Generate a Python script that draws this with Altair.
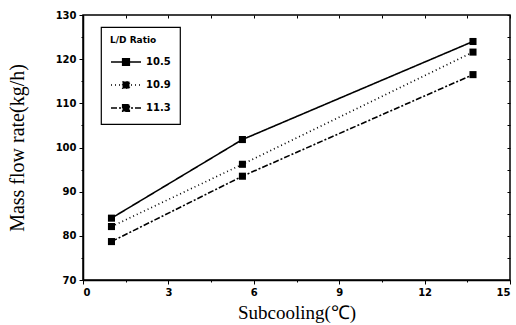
import altair as alt
import pandas as pd

subcooling = [1.0, 5.6, 13.7]
ratios = ["10.5", "10.9", "11.3"]
flow_105 = [84.0, 101.8, 124.0]
flow_109 = [82.1, 96.2, 121.6]
flow_113 = [78.7, 93.5, 116.5]

x_ticks = [i * 1.5 for i in range(11)]
y_ticks = [70 + 5 * i for i in range(13)]

rows = []
for r, vals in zip(ratios, [flow_105, flow_109, flow_113]):
    for xv, yv in zip(subcooling, vals):
        rows.append({"x": xv, "y": yv, "ratio": r})
df = pd.DataFrame(rows)

xs = alt.Scale(domain=[0, 15], nice=False, zero=False)
ys = alt.Scale(domain=[70, 130], nice=False, zero=False)

tick_font = "DejaVu Sans"
title_font = "Liberation Serif"

x_axis = alt.Axis(
    values=x_ticks, labelExpr="datum.value % 3 === 0 ? datum.label : ''",
    title="Subcooling(℃)", titleFont=title_font, titleFontSize=19, titleFontWeight="normal",
    titleColor="black", titlePadding=6,
    labelFont=tick_font, labelFontWeight="bold", labelFontSize=10, labelColor="black",
    labelPadding=3, grid=False, domainColor="black", domainWidth=1.5,
    tickColor="black", tickSize={"condition": {"test": "datum.value % 3 === 0", "value": 4}, "value": 2},
)
y_axis = alt.Axis(
    values=y_ticks, labelExpr="datum.value % 10 === 0 ? datum.label : ''",
    title="Mass flow rate(kg/h)", titleFont=title_font, titleFontSize=20, titleFontWeight="normal",
    titleColor="black", titlePadding=28,
    labelFont=tick_font, labelFontWeight="bold", labelFontSize=10, labelColor="black",
    labelPadding=3, grid=False, domainColor="black", domainWidth=1.5,
    tickColor="black", tickSize={"condition": {"test": "datum.value % 10 === 0", "value": 4}, "value": 2},
)

dash_scale = alt.Scale(domain=ratios, range=[[1, 0], [1, 3], [6, 2, 2, 2]])

legend = alt.Legend(
    title="L/D Ratio", orient="none", legendX=18, legendY=12,
    titleFont=tick_font, titleFontSize=9, titleFontWeight="bold", titleColor="black",
    labelFont=tick_font, labelFontSize=10, labelFontWeight="bold", labelColor="black",
    symbolType="M-1,0H1M-0.23,-0.23H0.23V0.23H-0.23Z", symbolSize=900,
    symbolStrokeColor="black", symbolFillColor="black", symbolStrokeWidth=1.3,
    strokeColor="black", padding=9, rowPadding=-5, labelOffset=4, titlePadding=1,
)

lines = alt.Chart(df).mark_line(color="black", strokeWidth=1.6).encode(
    x=alt.X("x:Q", scale=xs, axis=x_axis),
    y=alt.Y("y:Q", scale=ys, axis=y_axis),
    strokeDash=alt.StrokeDash("ratio:N", scale=dash_scale, legend=legend),
    detail="ratio:N",
)

points = alt.Chart(df).mark_point(shape="square", filled=True, color="black", size=50, opacity=1).encode(
    x=alt.X("x:Q", scale=xs, axis=None),
    y=alt.Y("y:Q", scale=ys, axis=None),
    detail="ratio:N",
)

frame = alt.Chart(df).mark_point(opacity=0).encode(
    x=alt.X("x:Q", scale=xs, axis=alt.Axis(orient="top", values=x_ticks, labels=False, title=None,
                                            domain=False, grid=False, tickColor="black", tickSize=3, offset=-3)),
    y=alt.Y("y:Q", scale=ys, axis=alt.Axis(orient="right", values=y_ticks, labels=False, title=None,
                                            domain=False, grid=False, tickColor="black", tickSize=3, offset=-3)),
)

chart = alt.layer(lines, points, frame).resolve_axis(x="independent", y="independent").properties(
    width=427, height=265,
    autosize=alt.AutoSizeParams(type="none"),
    padding={"left": 83, "top": 15, "right": 6, "bottom": 45},
    background="white",
).configure_view(stroke="black", strokeWidth=1.5).configure_legend(strokeWidth=1.2)

chart.save("out.html", embed_options={"renderer": "svg", "actions": False})
